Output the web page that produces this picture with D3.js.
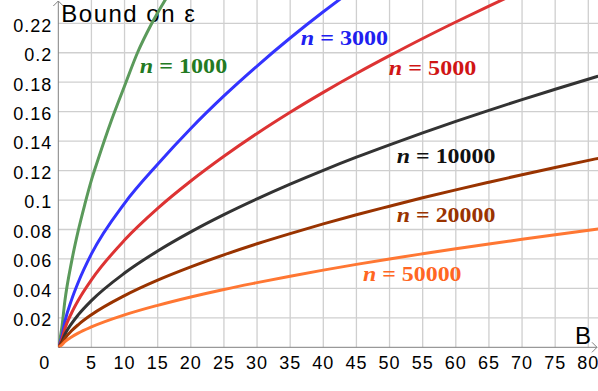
<!DOCTYPE html>
<html>
<head>
<meta charset="utf-8">
<script src="https://cdn.jsdelivr.net/npm/d3@7"></script>
<style>
  body { margin: 0; background: #fff; }
  svg { display: block; }
  .tick-label { font-family: "Liberation Sans", Arial, sans-serif; font-size: 18px; letter-spacing: 1px; fill: #000; }
  .axis-title { font-family: "Liberation Sans", Arial, sans-serif; font-size: 24px; letter-spacing: 1.5px; fill: #000; }
  .curve-label { font-family: "Liberation Serif", serif; font-size: 20px; font-weight: bold; }
</style>
</head>
<body>
<script>
// values
var bN1000 = [0, 0.5, 1, 2, 3, 4, 5, 6, 8, 10, 12, 14, 16.6];
var epsN1000 = [0, 0.0122, 0.0317, 0.058, 0.079, 0.097, 0.1135, 0.1275, 0.1538, 0.1774, 0.2005, 0.219, 0.2393];

var bN3000 = [0, 0.5, 1, 2, 3, 5, 10, 15, 20, 25, 30, 35, 40, 43];
var epsN3000 = [0, 0.0068, 0.0176, 0.0322, 0.044, 0.0634, 0.0978, 0.1243, 0.1486, 0.1707, 0.191, 0.21, 0.2278, 0.238];

var bN5000 = [0, 0.5, 1, 2, 3, 5, 10, 15, 20, 25, 30, 35, 40, 45, 50, 55, 60, 65, 68];
var epsN5000 = [0, 0.0049, 0.0128, 0.0233, 0.0318, 0.0458, 0.0728, 0.0943, 0.1129, 0.1297, 0.1452, 0.1596, 0.1731, 0.1859, 0.198, 0.2097, 0.2209, 0.2317, 0.238];

var bLong = [0, 0.5, 1, 2, 3, 5, 10, 15, 20, 25, 30, 35, 40, 45, 50, 55, 60, 65, 70, 75, 81.5];
var epsN10000 = [0, 0.0034, 0.0088, 0.0161, 0.022, 0.0317, 0.0504, 0.0654, 0.0784, 0.0901, 0.1008, 0.1108, 0.1202, 0.1291, 0.1375, 0.1456, 0.1534, 0.1609, 0.1682, 0.1752, 0.1841];
var epsN20000 = [0, 0.0024, 0.0061, 0.0112, 0.0153, 0.0221, 0.0351, 0.0456, 0.0546, 0.0628, 0.0703, 0.0772, 0.0838, 0.09, 0.0958, 0.1015, 0.1069, 0.1121, 0.1172, 0.1221, 0.1283];
var epsN50000 = [0, 0.0015, 0.0038, 0.007, 0.0096, 0.0138, 0.022, 0.0285, 0.0342, 0.0393, 0.0439, 0.0483, 0.0524, 0.0563, 0.06, 0.0635, 0.0669, 0.0702, 0.0733, 0.0764, 0.0803];

var xTicks = [5, 10, 15, 20, 25, 30, 35, 40, 45, 50, 55, 60, 65, 70, 75, 80];
var yTicks = [0.02, 0.04, 0.06, 0.08, 0.1, 0.12, 0.14, 0.16, 0.18, 0.2, 0.22];

var series = [
    {n: "1000",  b: bN1000, eps: epsN1000,  line: "#5b9a5b", text: "#237a23", lb: 12.3, le: 0.186},
    {n: "3000",  b: bN3000, eps: epsN3000,  line: "#3333ff", text: "#2020f0", lb: 36.6, le: 0.2053},
    {n: "5000",  b: bN5000, eps: epsN5000,  line: "#dd3333", text: "#d01515", lb: 49.9, le: 0.1849},
    {n: "10000", b: bLong,  eps: epsN10000, line: "#333333", text: "#111111", lb: 51.1, le: 0.1253},
    {n: "20000", b: bLong,  eps: epsN20000, line: "#993300", text: "#993300", lb: 51.1, le: 0.0853},
    {n: "50000", b: bLong,  eps: epsN50000, line: "#ff7733", text: "#ff6622", lb: 46.0, le: 0.0452}
];

var width = 598, height = 391;

var x = d3.scaleLinear().domain([0, 80]).range([58.3, 588.3]);
var y = d3.scaleLinear().domain([0, 0.22]).range([347.3, 23.3]);

var svg = d3.select("body")
    .append("svg")
    .attr("width", width)
    .attr("height", height);

svg.append("defs").append("clipPath")
    .attr("id", "plot-clip")
    .append("rect")
    .attr("x", x(0)).attr("y", 0)
    .attr("width", width - x(0)).attr("height", y(0));

// grid
svg.append("g")
    .selectAll("line")
    .data(xTicks)
    .enter().append("line")
    .attr("x1", function(d) { return x(d); })
    .attr("x2", function(d) { return x(d); })
    .attr("y1", 0)
    .attr("y2", y(0))
    .attr("stroke", "#cfcfcf")
    .attr("stroke-width", 1.3);

svg.append("g")
    .selectAll("line")
    .data(yTicks)
    .enter().append("line")
    .attr("x1", x(0))
    .attr("x2", width)
    .attr("y1", function(d) { return y(d); })
    .attr("y2", function(d) { return y(d); })
    .attr("stroke", "#cfcfcf")
    .attr("stroke-width", 1.3);

// axes with arrow heads
svg.append("line")
    .attr("x1", x(0)).attr("x2", width - 1)
    .attr("y1", y(0)).attr("y2", y(0))
    .attr("stroke", "#808080").attr("stroke-width", 1);
svg.append("line")
    .attr("x1", x(0)).attr("x2", x(0))
    .attr("y1", y(0)).attr("y2", 1)
    .attr("stroke", "#808080").attr("stroke-width", 1);
svg.append("path")
    .attr("d", "M" + (width - 6) + "," + (y(0) - 5) + "L" + (width - 1) + "," + y(0) + "L" + (width - 6) + "," + (y(0) + 5))
    .attr("fill", "none").attr("stroke", "#808080");
svg.append("path")
    .attr("d", "M" + (x(0) - 5) + ",6L" + x(0) + ",1L" + (x(0) + 5) + ",6")
    .attr("fill", "none").attr("stroke", "#808080");

// tick labels
svg.append("g")
    .selectAll("text")
    .data(xTicks)
    .enter().append("text")
    .attr("class", "tick-label")
    .attr("x", function(d) { return x(d); })
    .attr("y", y(0) + 22)
    .attr("text-anchor", "middle")
    .text(function(d) { return d; });

svg.append("text")
    .attr("class", "tick-label")
    .attr("x", x(0) - 8)
    .attr("y", y(0) + 22)
    .attr("text-anchor", "end")
    .text("0");

svg.append("g")
    .selectAll("text")
    .data(yTicks)
    .enter().append("text")
    .attr("class", "tick-label")
    .attr("x", x(0) - 6)
    .attr("y", function(d) { return y(d) + 8.3; })
    .attr("text-anchor", "end")
    .text(function(d) { return String(d); });

svg.append("text")
    .attr("class", "axis-title")
    .attr("x", x(0) + 3)
    .attr("y", 21.5)
    .text("Bound on ε");

svg.append("text")
    .attr("class", "axis-title")
    .attr("x", 575)
    .attr("y", 344)
    .text("B");

// curves
var line = d3.line()
    .x(function(d) { return x(d[0]); })
    .y(function(d) { return y(d[1]); })
    .curve(d3.curveMonotoneX);

svg.append("g")
    .attr("clip-path", "url(#plot-clip)")
    .selectAll("path")
    .data(series)
    .enter().append("path")
    .attr("d", function(s) { return line(d3.zip(s.b, s.eps)); })
    .attr("fill", "none")
    .attr("stroke", function(s) { return s.line; })
    .attr("stroke-width", 3);

// curve labels
var labels = svg.append("g")
    .selectAll("text")
    .data(series)
    .enter().append("text")
    .attr("class", "curve-label")
    .attr("x", function(s) { return x(s.lb); })
    .attr("y", function(s) { return y(s.le); })
    .attr("fill", function(s) { return s.text; })
    .attr("textLength", function(s) { return 43 + s.n.length * 11.1; })
    .attr("lengthAdjust", "spacingAndGlyphs");

labels.append("tspan").style("font-style", "italic").text("n");
labels.append("tspan").text(" = ");
labels.append("tspan").text(function(s) { return s.n; });
</script>
</body>
</html>
